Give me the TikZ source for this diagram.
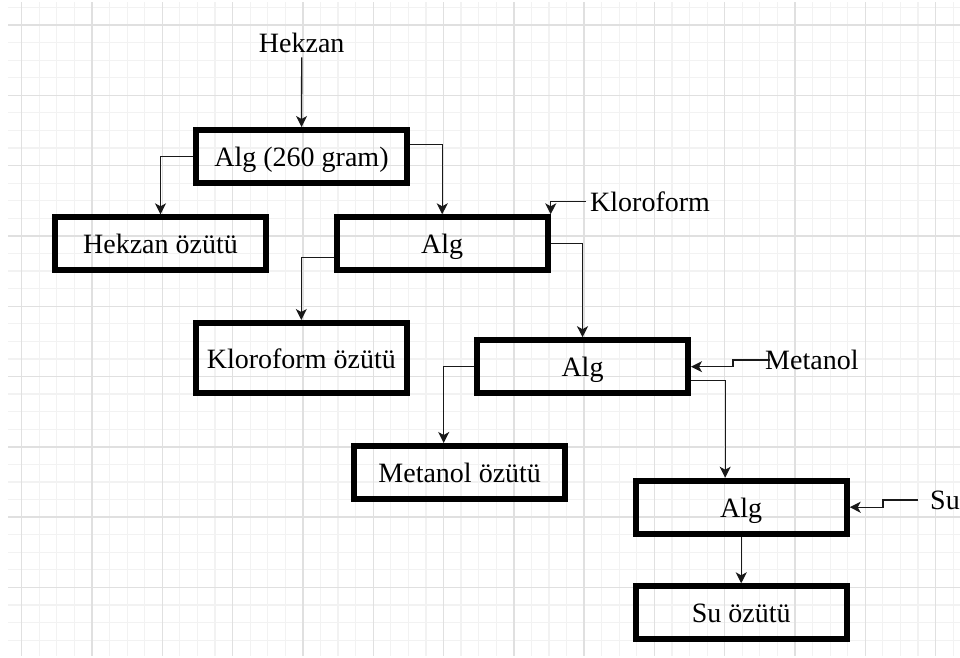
\documentclass[tikz,border=0pt]{standalone}
\usepackage{fontspec}
\setmainfont{Liberation Serif}
\usetikzlibrary{arrows.meta}
\begin{document}
\begin{tikzpicture}[x=1pt,y=-1pt,font=\fontsize{28}{34}\selectfont,
kutu/.style={draw=black,line width=6pt,minimum width=211pt,minimum height=53pt,inner sep=0pt,text height=20pt,text depth=0pt},
madde/.style={inner sep=4pt},
ok/.style={draw=black!90,line width=1.3pt,-{Stealth[length=11pt,width=11pt,inset=3pt]}}]
\useasboundingbox(0,0)rectangle(960,657);
\fill[white](0,0)rectangle(960,657);
\scope
\clip(8,2)rectangle(960,655);
\foreach \k in {0,...,54}\draw[black!5,line width=1.2pt]({21.7+17.575*\k},0)--({21.7+17.575*\k},657);
\foreach \k in {-1,...,36}\draw[black!5,line width=1.2pt](0,{25+17.575*\k})--(960,{25+17.575*\k});
\foreach \k in {0,...,13}\draw[black!12,line width=1.4pt]({21.7+70.3*\k},0)--({21.7+70.3*\k},657);
\foreach \k in {0,...,9}\draw[black!12,line width=1.4pt](0,{25+70.3*\k})--(960,{25+70.3*\k});
\endscope
\node[kutu](alga)at(301.5,156.5){Alg (260 gram)};
\node[kutu](hekoz)at(160.5,243.8){Hekzan özütü};
\node[kutu](algb)at(442.2,243.8){Alg};
\node[kutu,minimum height=70pt](kloz)at(301.3,358){Kloroform özütü};
\node[kutu](algc)at(582.5,366.7){Alg};
\node[kutu](metoz)at(459.7,472.5){Metanol özütü};
\node[kutu](algd)at(741.2,507.2){Alg};
\node[kutu](suoz)at(741.2,612.8){Su özütü};
\node[madde](hekzan)at(301.7,43.3){Hekzan};
\node[madde,anchor=west](kloro)at(586,201.7){Kloroform};
\node[madde,anchor=west](metanol)at(761,360){Metanol};
\node[madde,anchor=west](su)at(926,500){Su};
\draw[ok](hekzan.south)--(alga.north);
\draw[ok](alga.west)-|(hekoz.north);
\draw[ok]([yshift=12pt]alga.east)-|(algb.north);
\draw[ok]([yshift=-14pt]algb.west)-|(kloz.north);
\draw[ok](kloro.west)-|(algb.north east);
\draw[ok](algb.east)-|(algc.north);
\draw[ok](algc.west)-|([xshift=-16pt]metoz.north);
\draw[ok]([xshift=9pt]metanol.west)--++(-37,0)|-(algc.east);
\draw[ok]([yshift=-14pt]algc.east)-|([xshift=-16pt]algd.north);
\draw[ok]([xshift=-8pt]su.west)--++(-35,0)|-(algd.east);
\draw[ok](algd.south)--(suoz.north);
\end{tikzpicture}
\end{document}
